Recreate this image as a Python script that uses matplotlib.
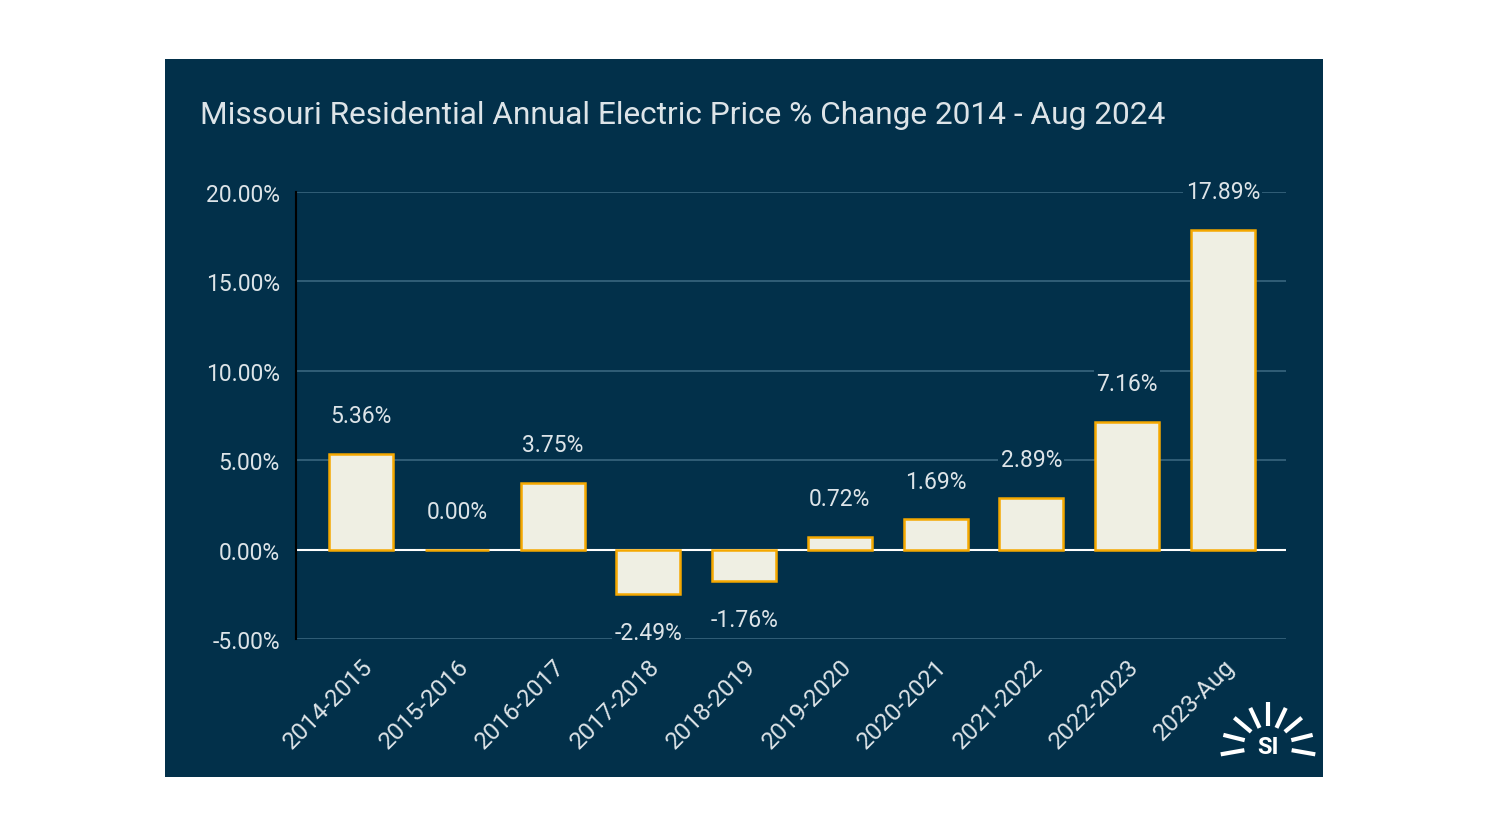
import matplotlib.pyplot as plt
from matplotlib.patches import Rectangle
from matplotlib.lines import Line2D
import numpy as np

# Data
periods = ["2014-2015", "2015-2016", "2016-2017", "2017-2018", "2018-2019",
           "2019-2020", "2020-2021", "2021-2022", "2022-2023", "2023-Aug"]
pct_change = [5.36, 0.00, 3.75, -2.49, -1.76, 0.72, 1.69, 2.89, 7.16, 17.89]
yticks = [-5, 0, 5, 10, 15, 20]

navy = "#02304a"
cream = "#efefe3"
orange = "#f5a800"
txt = "#dde4e8"
grid_c = "#34617a"

plt.rcParams['font.family'] = ['Roboto', 'DejaVu Sans']

W, H = 1488, 837
fig = plt.figure(figsize=(W/100, H/100), dpi=100, facecolor="white")

# dark panel
fig.patches.append(Rectangle((165/W, 59/H), 1158/W, 718/H, transform=fig.transFigure,
                             facecolor=navy, edgecolor="none", zorder=-1))

fig.text(200/W, 1 - 115/H, "Missouri Residential Annual Electric Price % Change 2014 - Aug 2024",
         color=txt, fontsize=22.8, va="center", ha="left")

ax = fig.add_axes([296/W, 197/H, 990/W, 447/H])
ax.set_zorder(1)
ax.patch.set_alpha(0)

x = np.arange(len(periods))
ax.bar(x, pct_change, width=0.67, color=cream, edgecolor=orange, linewidth=1.8, zorder=3)

for xi, v in zip(x, pct_change):
    off = 38 if v >= 0 else -38
    ax.annotate(f"{v:.2f}%", (xi, v), xytext=(0, off), textcoords="offset pixels",
                ha="center", va="center", color=txt, fontsize=16.5, zorder=4,
                bbox=dict(boxstyle="square,pad=0.1", facecolor=navy, edgecolor="none"))

ax.set_xlim(-0.68, 9.66)
ax.set_ylim(-5, 20)
ax.set_yticks(yticks)
ax.set_yticklabels([f"{t:.2f}%" for t in yticks])
ax.yaxis.grid(True, color=grid_c, linewidth=1.3, zorder=0)
ax.set_axisbelow(True)
ax.axhline(0, color="white", linewidth=1.5, zorder=2)
ax.set_xticks(x)
ax.set_xticklabels(periods, rotation=45, ha="right", va="top", rotation_mode="anchor")
ax.tick_params(axis="both", length=0, colors=txt, labelsize=16.5)
ax.tick_params(axis="x", labelsize=17.5, pad=11)
ax.tick_params(axis="y", pad=11.5)
for s in ["top", "right", "bottom"]:
    ax.spines[s].set_visible(False)
ax.spines["left"].set_color("black")
ax.spines["left"].set_linewidth(1.5)

# SI logo
cx, cy = 1268, 837 - 747
for ang, r0, r1 in [(90, 20, 44), (65, 20, 42), (40, 22, 44), (14, 24, 46), (-10, 24, 48),
                    (115, 20, 42), (140, 22, 44), (166, 24, 46), (190, 24, 48)]:
    a = np.deg2rad(ang)
    fig.add_artist(Line2D([(cx + r0*np.cos(a))/W, (cx + r1*np.cos(a))/W],
                          [(cy + r0*np.sin(a))/H, (cy + r1*np.sin(a))/H],
                          transform=fig.transFigure, color="white", linewidth=3,
                          solid_capstyle="butt"))
fig.text(cx/W, (cy - 1)/H, "SI", color="white", fontsize=17, fontweight="bold",
         ha="center", va="center")

fig.savefig("out.png", dpi=100, facecolor="white")
